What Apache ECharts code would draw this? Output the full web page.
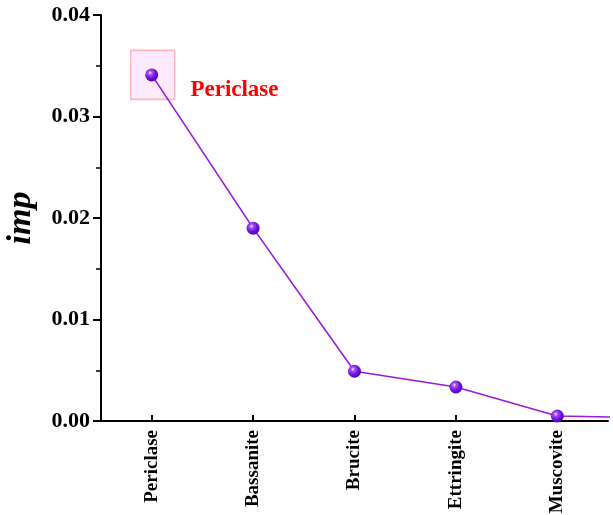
<!DOCTYPE html>
<html>
<head>
<meta charset="utf-8">
<script src="https://cdn.jsdelivr.net/npm/echarts@6/dist/echarts.min.js"></script>
<style>
  html, body { margin: 0; padding: 0; background: #fff; }
  #chart { width: 613px; height: 515px; }
</style>
</head>
<body>
<div id="chart"></div>
<script>
// Feature importance (imp) per mineral phase
const categories = ['Periclase', 'Bassanite', 'Brucite', 'Ettringite', 'Muscovite'];
const impValues = [0.0341, 0.0190, 0.0049, 0.00335, 0.00049];
// the curve continues past the last shown phase and is cut at the frame edge
const tailValue = 0.00030;
const yTicks = [0, 0.01, 0.02, 0.03, 0.04];
const highlighted = 'Periclase';

const FONT = '"Liberation Serif", "Times New Roman", serif';

const lineData = impValues.map((v, i) => [i, v]);
lineData.push([categories.length, tailValue]);
const hiIdx = categories.indexOf(highlighted);

const chart = echarts.init(document.getElementById('chart'), null, { renderer: 'canvas' });

chart.setOption({
  animation: false,
  backgroundColor: '#fff',
  grid: { left: 101, top: 15, right: 5, bottom: 94, containLabel: false, outerBoundsMode: 'none' },
  xAxis: {
    type: 'value',
    min: -0.5,
    max: categories.length - 0.5,
    splitLine: { show: false },
    axisLine: { show: true, onZero: false, lineStyle: { color: '#000', width: 2 } },
    axisTick: {
      show: true, inside: true, length: 6,
      lineStyle: { color: '#000', width: 2 },
      customValues: categories.map((c, i) => i)
    },
    axisLabel: {
      customValues: categories.map((c, i) => i),
      formatter: v => categories[Math.round(v)] || '',
      rotate: 90,
      margin: 9,
      color: '#000',
      fontFamily: FONT,
      fontWeight: 'bold',
      fontSize: 19
    }
  },
  yAxis: {
    type: 'value',
    min: yTicks[0],
    max: yTicks[yTicks.length - 1],
    interval: 0.01,
    name: 'imp',
    nameLocation: 'middle',
    nameGap: 63,
    nameTextStyle: {
      fontFamily: FONT, fontStyle: 'italic', fontWeight: 'bold', fontSize: 34, color: '#000'
    },
    splitLine: { show: false },
    axisLine: { show: true, onZero: false, lineStyle: { color: '#000', width: 2 } },
    axisTick: { show: true, inside: false, length: 8, lineStyle: { color: '#000', width: 2 } },
    minorTick: { show: true, splitNumber: 2, length: 5, lineStyle: { color: '#000', width: 1.5 } },
    axisLabel: {
      margin: 11,
      color: '#000',
      fontFamily: FONT,
      fontWeight: 'bold',
      fontSize: 22,
      formatter: v => v.toFixed(2)
    }
  },
  series: [
    {
      type: 'line',
      data: lineData,
      clip: true,
      z: 3,
      symbol: 'circle',
      symbolSize: 13,
      lineStyle: { color: '#9b19d9', width: 1.6 },
      itemStyle: {
        color: {
          type: 'radial', x: 0.38, y: 0.35, r: 0.7,
          colorStops: [
            { offset: 0, color: '#f3e4ff' },
            { offset: 0.22, color: '#a452f2' },
            { offset: 0.6, color: '#6d12dc' },
            { offset: 1, color: '#4b00b8' }
          ]
        }
      },
      markPoint: {
        z: 1,
        symbol: 'rect',
        symbolSize: [44, 49],
        symbolOffset: [1, 0],
        itemStyle: { color: '#fdeafc', borderColor: '#ffb3bc', borderWidth: 1.5 },
        label: {
          show: true,
          position: 'right',
          distance: 15,
          offset: [0, 15],
          formatter: highlighted,
          color: '#ff0000',
          fontFamily: FONT,
          fontWeight: 'bold',
          fontSize: 23
        },
        data: [{ coord: [hiIdx, impValues[hiIdx]] }]
      }
    }
  ]
});
</script>
</body>
</html>
